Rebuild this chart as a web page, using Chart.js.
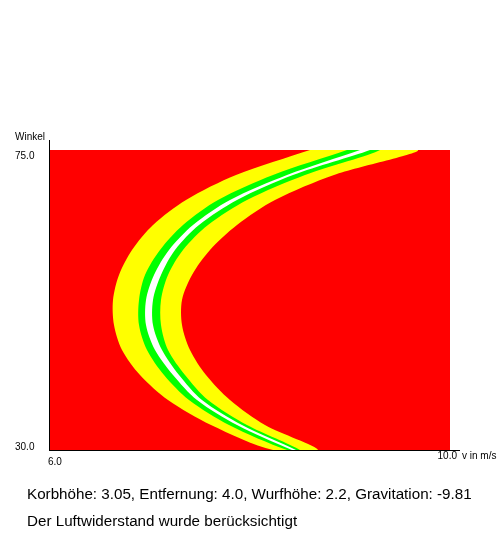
<!DOCTYPE html>
<html><head><meta charset="utf-8">
<script src="https://cdn.jsdelivr.net/npm/chart.js@4"></script>
<style>
html,body{margin:0;padding:0;background:#fff;}
#wrap{position:relative;width:500px;height:550px;}
#c{position:absolute;left:0;top:0;}
.info{position:absolute;left:27px;font:15.2px "Liberation Sans",Arial,sans-serif;color:#000;white-space:nowrap;line-height:15px;}
</style></head><body>
<div id="wrap"><canvas id="c" width="500" height="550"></canvas>
<div class="info" style="top:486px">Korbhöhe: 3.05, Entfernung: 4.0, Wurfhöhe: 2.2, Gravitation: -9.81</div>
<div class="info" style="top:513px">Der Luftwiderstand wurde berücksichtigt</div></div>
<script>
// angle (Winkel, degrees) for each measured row
const angles      = [75, 71.25, 67.5, 63.75, 60, 56.25, 52.5, 48.75, 45, 41.25, 37.5, 33.75, 30];
// speed v (m/s) boundaries of each zone at each angle
const yellowLeft  = [8.60, 7.86, 7.36, 7.03, 6.82, 6.69, 6.63, 6.64, 6.72, 6.90, 7.18, 7.61, 8.23];
const greenLeft   = [8.97, 8.23, 7.68, 7.33, 7.10, 6.95, 6.89, 6.89, 6.97, 7.14, 7.39, 7.79, 8.37];
const whiteLeft   = [9.10, 8.37, 7.80, 7.43, 7.19, 7.04, 6.96, 6.96, 7.05, 7.23, 7.47, 7.87, 8.42];
const whiteRight  = [9.20, 8.43, 7.87, 7.49, 7.25, 7.11, 7.03, 7.03, 7.12, 7.29, 7.52, 7.92, 8.46];
const greenRight  = [9.30, 8.55, 7.97, 7.58, 7.33, 7.18, 7.11, 7.11, 7.18, 7.35, 7.58, 7.97, 8.50];
const yellowRight = [9.68, 8.84, 8.25, 7.87, 7.60, 7.42, 7.32, 7.32, 7.40, 7.56, 7.80, 8.15, 8.68];
const xTicks = [6.0, 10.0];
const yTicks = [30.0, 75.0];
const xTitle = 'v in m/s';
const yTitle = 'Winkel';

function band(left, right) {
  const pts = angles.map((a, i) => ({x: left[i], y: a}));
  for (let i = angles.length - 1; i >= 0; i--) pts.push({x: right[i], y: angles[i]});
  pts.push({x: left[0], y: angles[0]});
  return pts;
}
function ds(data, color) {
  return {data, backgroundColor: color, borderWidth: 0, pointRadius: 0, fill: 'shape', tension: 0.3, clip: 0};
}

const bgPlugin = {
  id: 'bg',
  beforeDatasetsDraw(chart) {
    const {ctx, chartArea: a} = chart;
    ctx.save(); ctx.fillStyle = '#ff0000';
    ctx.fillRect(a.left, a.top, a.right - a.left, a.bottom - a.top);
    ctx.restore();
  }
};
const axisPlugin = {
  id: 'axes',
  afterDraw(chart) {
    const {ctx} = chart;
    const xs = chart.scales.x, ys = chart.scales.y;
    const x0 = Math.round(xs.getPixelForValue(xs.min)), x1 = Math.round(xs.getPixelForValue(xs.max));
    const y0 = Math.round(ys.getPixelForValue(ys.min)), y1 = Math.round(ys.getPixelForValue(ys.max));
    ctx.save();
    ctx.fillStyle = '#000';
    ctx.fillRect(x0 - 1, y1 - 10, 1, y0 - y1 + 11);
    ctx.fillRect(x0 - 1, y0, x1 - x0 + 11, 1);
    ctx.font = '10px "Liberation Sans", Arial, sans-serif';
    ctx.textBaseline = 'middle';
    ctx.textAlign = 'left';
    ctx.fillText(yTitle, 15, y1 - 13);
    yTicks.forEach(v => {
      const p = ys.getPixelForValue(v);
      ctx.fillText(v.toFixed(1), 15, v === ys.max ? p + 6 : p - 3);
    });
    xTicks.forEach(v => {
      const p = xs.getPixelForValue(v);
      if (v === xs.max) { ctx.textAlign = 'right'; ctx.fillText(v.toFixed(1), p + 7, y0 + 6); }
      else { ctx.textAlign = 'left'; ctx.fillText(v.toFixed(1), p - 2, y0 + 12); }
    });
    ctx.textAlign = 'left';
    ctx.fillText(xTitle, x1 + 12, y0 + 6);
    ctx.restore();
  }
};

new Chart(document.getElementById('c'), {
  type: 'line',
  data: {datasets: [
    ds(band(whiteLeft, whiteRight), '#ffffff'),
    ds(band(greenLeft, greenRight), '#00ff00'),
    ds(band(yellowLeft, yellowRight), '#ffff00')
  ]},
  options: {
    responsive: false, animation: false, devicePixelRatio: 1,
    layout: {padding: {left: 50, right: 50, top: 150, bottom: 100}},
    scales: {
      x: {type: 'linear', min: xTicks[0], max: xTicks[1], display: false},
      y: {type: 'linear', min: yTicks[0], max: yTicks[1], display: false}
    },
    plugins: {legend: {display: false}, tooltip: {enabled: false}, filler: {propagate: false}}
  },
  plugins: [bgPlugin, axisPlugin]
});
</script>
</body></html>
